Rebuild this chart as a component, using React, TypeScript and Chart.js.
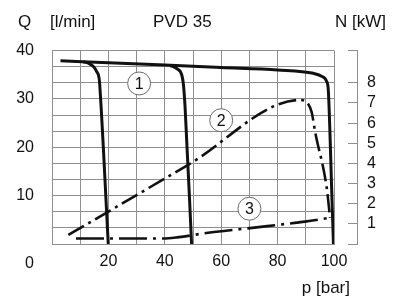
import { useEffect, useRef } from 'react';
import { Chart, registerables } from 'chart.js';

Chart.register(...registerables);

// Axes
const pressureMin = 0;
const pressureMax = 100;
const pressureGridStep = 10;
const pressureTickLabels = [20, 40, 60, 80, 100];

const flowMin = 0;
const flowMax = 40;
const flowGridStep = 10 / 3;
const flowTickLabels = [0, 10, 20, 30, 40];

const powerMin = 0;
const powerMax = 9.6;
const powerTickLabels = [1, 2, 3, 4, 5, 6, 7, 8];

// Curve 1: flow Q [l/min] vs pressure p [bar] for three pressure settings
const flowMainP = [3, 20, 40, 60, 80, 92.7, 95.6, 97.4, 98.0, 99.2, 99.8];
const flowMainQ = [37.9, 37.5, 37.0, 36.5, 36.0, 35.3, 34.7, 33.6, 31.6, 10.9, 0];

const flow20P = [11, 12.9, 14.7, 15.8, 16.7, 17.0, 19.95];
const flow20Q = [37.7, 37.4, 36.7, 35.7, 34.3, 32.3, 0];

const flow50P = [42, 44.2, 46.0, 46.6, 47.2, 49.5];
const flow50Q = [36.9, 36.3, 35.0, 33.0, 28.2, 0];

// Curve 2: power N [kW] at full flow
const powerFullP = [5.8, 18.2, 48.3, 88, 90.9, 92.1, 93.3, 97.4, 98.6];
const powerFullN = [0.45, 1.46, 3.93, 7.15, 6.94, 6.54, 5.57, 2.81, 1.3];

// Curve 3: power N [kW] at zero stroke
const powerZeroP = [8.5, 39.5, 45, 49.5, 52.5, 70.2, 86.8, 89.7, 98.4];
const powerZeroN = [0.27, 0.27, 0.34, 0.43, 0.5, 0.79, 1.06, 1.11, 1.3];

// Circled curve numbers
const markerLabels = ['1', '2', '3'];
const markerP = [30.9, 60.0, 70.0];
const markerQ = [33.2, 25.6, 7.3];

const FONT = '"Liberation Sans", Arial, Helvetica, sans-serif';
const FONT_SIZE = 16;
const HEADER_SIZE = 17;
const INK = '#111111';
const GRID = '#8e8e8e';

const pts = (xs: number[], ys: number[]) => xs.map((x, i) => ({ x, y: ys[i] }));
const near = (list: number[], v: number) => list.find((t) => Math.abs(t - v) < 1e-6);
const powerTicks = (s: any) => {
  s.ticks = [powerMin, ...powerTickLabels, powerMax].map((value) => ({ value }));
};

const textPlugin = {
  id: 'chartTexts',
  afterDraw(chart: any) {
    const ctx = chart.ctx;
    const { left, right, top, bottom } = chart.chartArea;
    ctx.save();
    ctx.fillStyle = INK;
    ctx.textBaseline = 'middle';
    // circled numbers
    ctx.font = `${FONT_SIZE}px ${FONT}`;
    const meta = chart.getDatasetMeta(0);
    ctx.textAlign = 'center';
    meta.data.forEach((pt: any, i: number) => {
      ctx.fillText(markerLabels[i], pt.x, pt.y + 1);
    });
    // headers
    ctx.font = `${HEADER_SIZE}px ${FONT}`;
    ctx.textAlign = 'left';
    ctx.fillText('Q', left - 34, top - 28);
    ctx.fillText('[l/min]', left - 2, top - 28);
    ctx.fillText('PVD 35', left + 101, top - 28);
    ctx.fillText('N [kW]', right + 1, top - 28);
    ctx.textAlign = 'right';
    ctx.fillText('p [bar]', right + 16, bottom + 44);
    ctx.restore();
  },
};

export default function App() {
  const ref = useRef<HTMLCanvasElement | null>(null);

  useEffect(() => {
    if (!ref.current) return;
    const lineDs = (data: any[], axis: string, dash: number[], width: number) => ({
      data,
      yAxisID: axis,
      showLine: true,
      borderColor: INK,
      borderWidth: width,
      borderDash: dash,
      borderCapStyle: 'butt',
      pointRadius: 0,
      pointHoverRadius: 0,
      cubicInterpolationMode: 'monotone',
      fill: false,
    });

    const chart = new Chart(ref.current, {
      type: 'scatter',
      data: {
        datasets: [
          {
            data: pts(markerP, markerQ),
            yAxisID: 'y',
            showLine: false,
            pointStyle: 'circle',
            pointRadius: 11.5,
            pointBackgroundColor: '#ffffff',
            pointBorderColor: '#6a6a6a',
            pointBorderWidth: 1,
            order: -1,
          } as any,
          lineDs(pts(flowMainP, flowMainQ), 'y', [], 3),
          lineDs(pts(flow20P, flow20Q), 'y', [], 3),
          lineDs(pts(flow50P, flow50Q), 'y', [], 3),
          lineDs(pts(powerFullP, powerFullN), 'n', [18, 5, 3, 5], 2.6),
          lineDs(pts(powerZeroP, powerZeroN), 'n', [28, 6, 3, 6], 2.6),
        ],
      },
      options: {
        animation: false,
        responsive: true,
        maintainAspectRatio: false,
        events: [],
        layout: { padding: { left: 0, top: 39, right: 0, bottom: 0 } },
        plugins: { legend: { display: false }, tooltip: { enabled: false }, title: { display: false } },
        scales: {
          x: {
            type: 'linear',
            position: 'bottom',
            min: pressureMin,
            max: pressureMax,
            afterFit: (s: any) => { s.height = 56; },
            ticks: {
              stepSize: pressureGridStep,
              autoSkip: false,
              maxRotation: 0,
              padding: 8,
              color: INK,
              font: { family: FONT, size: FONT_SIZE },
              callback: (v: any) => (near(pressureTickLabels, Number(v)) !== undefined ? String(v) : ''),
            },
            grid: { color: GRID, lineWidth: 1, drawTicks: false },
            border: { color: GRID, width: 1 },
          },
          y: {
            type: 'linear',
            position: 'left',
            min: flowMin,
            max: flowMax,
            afterFit: (s: any) => { s.width = 44; },
            ticks: {
              stepSize: flowGridStep,
              autoSkip: false,
              padding: 18,
              color: INK,
              font: { family: FONT, size: FONT_SIZE },
              callback: (v: any) => {
                const t = near(flowTickLabels, Number(v));
                if (t === undefined) return '';
                return t === 0 ? ['', '', '0'] : String(t);
              },
            },
            grid: { color: GRID, lineWidth: 1, drawTicks: false },
            border: { color: GRID, width: 1 },
          },
          // power axis: line and tick marks, set off to the right of the grid
          n: {
            type: 'linear',
            position: { x: 108.2 } as any,
            min: powerMin,
            max: powerMax,
            afterBuildTicks: powerTicks,
            ticks: { display: false },
            grid: { color: GRID, lineWidth: 1, drawOnChartArea: false, drawTicks: true, tickLength: 9 },
            border: { display: true, color: GRID, width: 1 },
          },
          // power axis labels
          nLabels: {
            type: 'linear',
            position: 'right',
            min: powerMin,
            max: powerMax,
            afterBuildTicks: powerTicks,
            afterFit: (s: any) => { s.width = 62; },
            ticks: {
              autoSkip: false,
              padding: 33,
              color: INK,
              font: { family: FONT, size: FONT_SIZE },
              callback: (v: any) => (near(powerTickLabels, Number(v)) !== undefined ? String(v) : ''),
            },
            grid: { display: false, drawTicks: false },
            border: { display: false },
          },
        },
      } as any,
      plugins: [textPlugin],
    });
    return () => chart.destroy();
  }, []);

  return (
    <div style={{ position: 'relative', width: 388, height: 292 }}>
      <canvas ref={ref} />
    </div>
  );
}
